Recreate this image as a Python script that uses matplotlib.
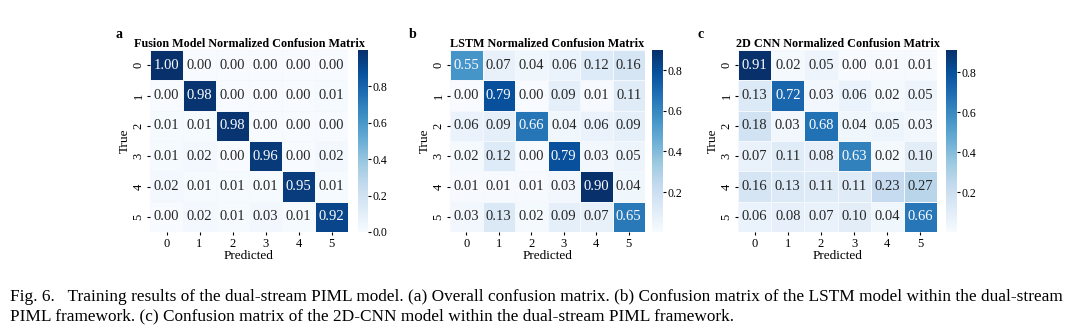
import numpy as np
import matplotlib
matplotlib.use("Agg")
import matplotlib.pyplot as plt
import seaborn as sns

plt.rcParams['font.family'] = ['Liberation Serif', 'DejaVu Serif']

# DATA
classes = ["0", "1", "2", "3", "4", "5"]

fusion_cm = [
    [1.00, 0.00, 0.00, 0.00, 0.00, 0.00],
    [0.00, 0.98, 0.00, 0.00, 0.00, 0.01],
    [0.01, 0.01, 0.98, 0.00, 0.00, 0.00],
    [0.01, 0.02, 0.00, 0.96, 0.00, 0.02],
    [0.02, 0.01, 0.01, 0.01, 0.95, 0.01],
    [0.00, 0.02, 0.01, 0.03, 0.01, 0.92],
]

lstm_cm = [
    [0.55, 0.07, 0.04, 0.06, 0.12, 0.16],
    [0.00, 0.79, 0.00, 0.09, 0.01, 0.11],
    [0.06, 0.09, 0.66, 0.04, 0.06, 0.09],
    [0.02, 0.12, 0.00, 0.79, 0.03, 0.05],
    [0.01, 0.01, 0.01, 0.03, 0.90, 0.04],
    [0.03, 0.13, 0.02, 0.09, 0.07, 0.65],
]

cnn_cm = [
    [0.91, 0.02, 0.05, 0.00, 0.01, 0.01],
    [0.13, 0.72, 0.03, 0.06, 0.02, 0.05],
    [0.18, 0.03, 0.68, 0.04, 0.05, 0.03],
    [0.07, 0.11, 0.08, 0.63, 0.02, 0.10],
    [0.16, 0.13, 0.11, 0.11, 0.23, 0.27],
    [0.06, 0.08, 0.07, 0.10, 0.04, 0.66],
]

titles = ["Fusion Model Normalized Confusion Matrix",
          "LSTM Normalized Confusion Matrix",
          "2D CNN Normalized Confusion Matrix"]
panel_labels = ["a", "b", "c"]

caption_1 = ("Fig. 6.   Training results of the dual-stream PIML model. (a) Overall confusion matrix. "
             "(b) Confusion matrix of the LSTM model within the dual-stream")
caption_2 = "PIML framework. (c) Confusion matrix of the 2D-CNN model within the dual-stream PIML framework."

W, H = 1091, 332
fig = plt.figure(figsize=(W / 100, H / 100), dpi=100)


def px(x0, y0, x1, y1):
    return [x0 / W, 1 - y1 / H, (x1 - x0) / W, (y1 - y0) / H]


# pixel layout of each panel: heatmap box, colorbar box, panel letter x
layout = [
    ((150, 50, 348, 232), (358, 50, 368, 232), 116),
    ((450, 50, 645, 232), (652, 50, 663, 232), 409),
    ((738, 50, 937, 232), (946, 50, 957, 232), 697),
]
ranges = [(0.0, 0.999, [0.0, 0.2, 0.4, 0.6, 0.8]),
          (0.003, 0.90, [0.2, 0.4, 0.6, 0.8]),
          (0.003, 0.91, [0.2, 0.4, 0.6, 0.8])]

for cm, title, lab, (hbox, cbox, lx), (vmin, vmax, ticks) in zip(
        [fusion_cm, lstm_cm, cnn_cm], titles, panel_labels, layout, ranges):
    ax = fig.add_axes(px(*hbox))
    cax = fig.add_axes(px(*cbox))
    sns.heatmap(np.array(cm), ax=ax, cbar_ax=cax, cmap="Blues", annot=True, fmt=".2f",
                vmin=vmin, vmax=vmax, linewidths=0.4, linecolor="#f4f8fd",
                xticklabels=classes, yticklabels=classes,
                annot_kws={"fontsize": 10.5})
    ax.set_title(title, fontsize=8.7, fontweight="bold", pad=2)
    ax.set_xlabel("Predicted", fontsize=9.5, labelpad=0)
    ax.set_ylabel("True", fontsize=9.5, labelpad=1)
    ax.tick_params(labelsize=9, length=2, pad=2)
    plt.setp(ax.get_yticklabels(), rotation=90, va="center")
    cax.set_yticks(ticks)
    cax.tick_params(labelsize=8.5, length=2, pad=1)
    fig.text(lx / W, 1 - 34 / H, lab, fontsize=10, fontweight="bold", ha="left", va="center")

fig.text(10 / W, 1 - 297 / H, caption_1, fontsize=12.4, ha="left", va="center")
fig.text(10 / W, 1 - 316 / H, caption_2, fontsize=12.4, ha="left", va="center")

fig.savefig("out.png", dpi=100)
